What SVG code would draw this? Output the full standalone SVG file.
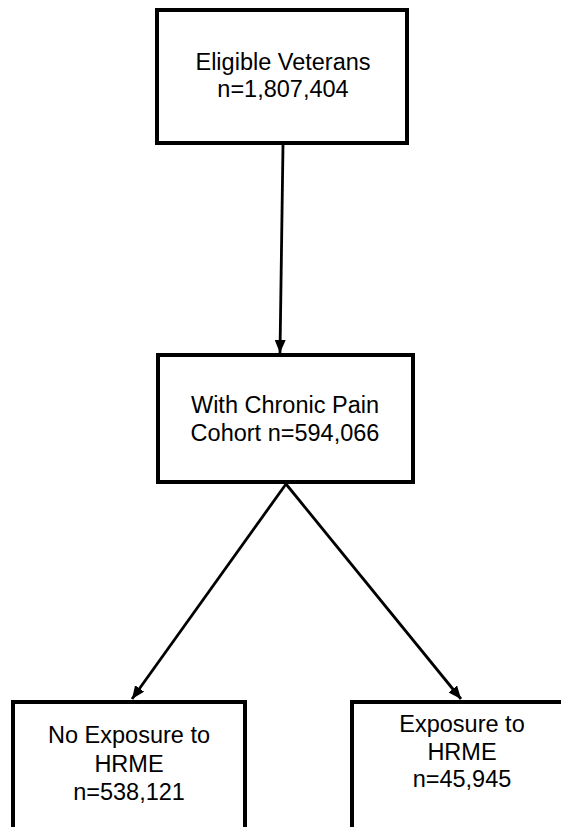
<svg xmlns="http://www.w3.org/2000/svg" width="561" height="827" viewBox="0 0 561 827">
<style>
.box{fill:#fff;stroke:#000;stroke-width:4}
.t{font-family:"Liberation Sans",Arial,sans-serif;font-size:23.5px;fill:#000;text-anchor:middle}
.c{stroke:#000;stroke-width:2.8;fill:none}
</style>
<defs>
<marker id="ah" viewBox="0 0 13 11" refX="13" refY="5.5" markerWidth="13" markerHeight="11" markerUnits="userSpaceOnUse" orient="auto">
<path d="M0,0 L13,5.5 L0,11 z" fill="#000"/>
</marker>
</defs>
<rect width="561" height="827" fill="#fff"/>
<g id="connectors">
<line class="c" x1="283" y1="145" x2="280" y2="353" marker-end="url(#ah)"/>
<line class="c" x1="286" y1="484" x2="132" y2="699" marker-end="url(#ah)"/>
<line class="c" x1="286" y1="484" x2="461" y2="699" marker-end="url(#ah)"/>
</g>
<g id="eligible">
<rect class="box" x="157" y="10" width="250" height="133"/>
<text class="t" x="283" y="70">Eligible Veterans</text>
<text class="t" x="283" y="97">n=1,807,404</text>
</g>
<g id="chronic">
<rect class="box" x="158" y="355" width="255" height="127"/>
<text class="t" x="285" y="413">With Chronic Pain</text>
<text class="t" x="285" y="441">Cohort n=594,066</text>
</g>
<g id="noexposure">
<rect class="box" x="13" y="702" width="232" height="140"/>
<text class="t" x="129" y="743">No Exposure to</text>
<text class="t" x="129" y="772">HRME</text>
<text class="t" x="129" y="800">n=538,121</text>
</g>
<g id="exposure">
<rect class="box" x="352" y="702" width="220" height="140"/>
<text class="t" x="462" y="732">Exposure to</text>
<text class="t" x="462" y="760">HRME</text>
<text class="t" x="462" y="787">n=45,945</text>
</g>
</svg>
